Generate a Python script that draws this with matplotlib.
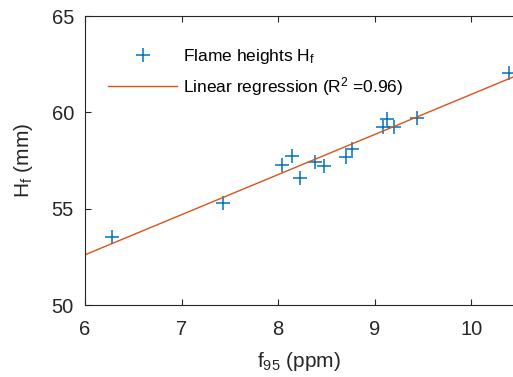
import numpy as np
import matplotlib
matplotlib.use('Agg')
import matplotlib.pyplot as plt

plt.rcParams['font.family'] = 'Liberation Sans'
plt.rcParams['mathtext.fontset'] = 'custom'
plt.rcParams['mathtext.rm'] = 'Liberation Sans'
plt.rcParams['mathtext.it'] = 'Liberation Sans'

# f95 (ppm) vs flame height (mm)
f95 = [6.28, 7.43, 8.04, 8.14, 8.23, 8.38, 8.47, 8.70, 8.76, 9.08, 9.13, 9.20, 9.44, 10.39]
hf = [53.55, 55.31, 57.27, 57.75, 56.61, 57.44, 57.23, 57.70, 58.08, 59.22, 59.64, 59.22, 59.69, 62.06]
r2_text = '0.96'

xlim = (6, 10.43)
ylim = (50, 65)
xticks = [6, 7, 8, 9, 10]
yticks = [50, 55, 60, 65]

blue = '#0072BD'
orange = '#D95319'
axcol = '#262626'

fig = plt.figure(figsize=(5.13, 3.77), dpi=100)
ax = fig.add_axes([85/513, 1-305/377, 1-85/513, 289/377])

ax.plot(f95, hf, '+', color=blue, markersize=10, markeredgewidth=1.1,
        label=r'Flame heights H$_\mathregular{f}$')

p = np.polyfit(f95, hf, 1)
xx = np.array(xlim)
ax.plot(xx, np.polyval(p, xx), '-', color=orange, linewidth=1.0,
        label=r'Linear regression (R$^\mathregular{2}$ =' + r2_text + ')')

ax.set_xlim(xlim)
ax.set_ylim(ylim)
ax.set_xticks(xticks)
ax.set_yticks(yticks)
ax.tick_params(direction='in', top=True, right=False, labelsize=14.5,
               colors=axcol, length=4, width=0.8)
ax.tick_params(axis='x', pad=11)
ax.tick_params(axis='y', pad=8)
for s in ['left', 'bottom', 'top']:
    ax.spines[s].set_color(axcol)
    ax.spines[s].set_linewidth(0.8)
ax.spines['right'].set_visible(False)

ax.set_xlabel(r'f$_\mathregular{95}$ (ppm)', fontsize=15, color=axcol, labelpad=8)
ax.set_ylabel(r'H$_\mathregular{f}$ (mm)', fontsize=15, color=axcol, labelpad=12)

leg = ax.legend(loc='upper left', frameon=False, fontsize=12.5,
                bbox_to_anchor=(0.017, 0.948), handlelength=4.0, handletextpad=0.35,
                labelspacing=0.55, borderaxespad=0.5)

fig.savefig('out.png', dpi=100)
